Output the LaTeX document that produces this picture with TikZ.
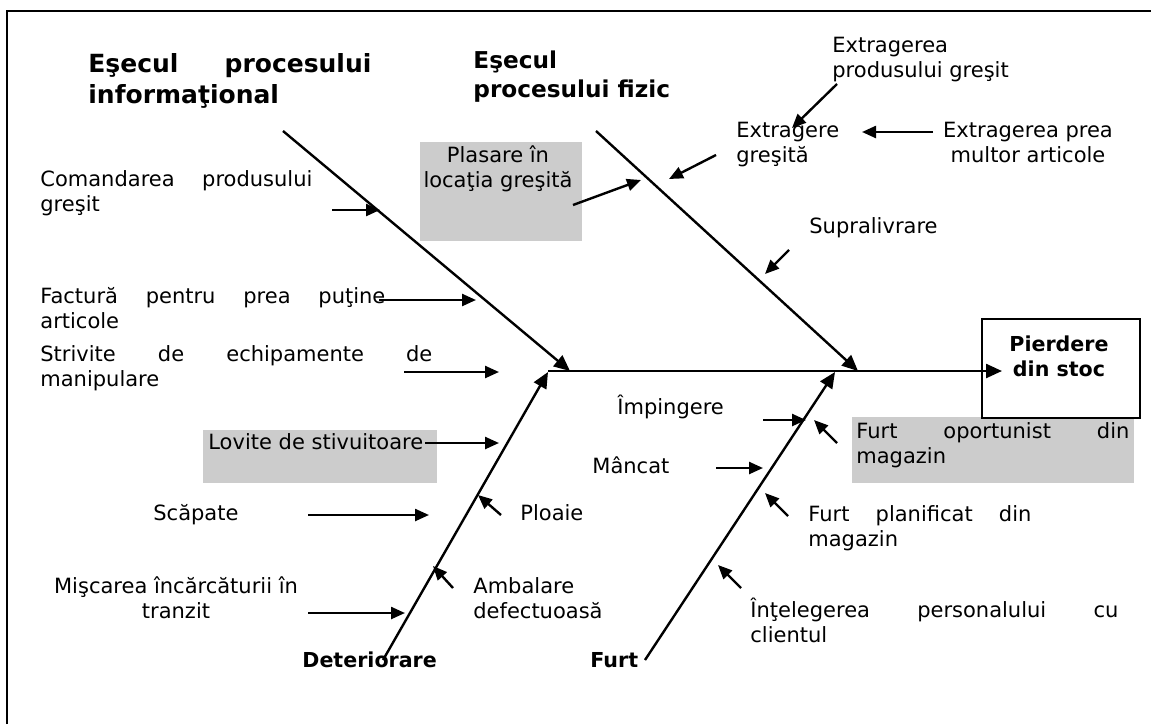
\documentclass[tikz,border=0pt]{standalone}
\usepackage{fontspec}
\setmainfont{DejaVu Sans}
\usetikzlibrary{arrows.meta}
\tikzset{
  bone/.style={line width=1.2pt,-{Triangle[length=8pt,width=7pt]}},
  arr/.style={line width=1.2pt,-{Triangle[length=7pt,width=6pt]}},
  txt/.style={inner sep=0pt,anchor=base west,font=\fontsize{10.5}{12.5}\selectfont,align=left},
  ctxt/.style={inner sep=0pt,anchor=base,font=\fontsize{10.5}{12.5}\selectfont,align=center},
  head/.style={inner sep=0pt,anchor=base west,align=left},
  lab/.style={inner sep=0pt,anchor=base west,font=\fontsize{10.3}{12.5}\selectfont\bfseries},
  grayfill/.style={fill=black!20,draw=none},
  effbox/.style={draw,line width=1pt,inner sep=0pt,anchor=north west}
}
\begin{document}
\begin{tikzpicture}[x=0.5pt,y=-0.5pt]
\useasboundingbox (0,0) rectangle (1151,724);
% frame
\draw[line width=1.1pt] (7,724) -- (7,11) -- (1151,11);
% grey boxes
\fill[grayfill] (420,142) rectangle (582,241);
\fill[grayfill] (203,430) rectangle (437,483);
\fill[grayfill] (852,417) rectangle (1134,483);
% effect box
\node[effbox,minimum width=79pt,minimum height=49.5pt] (eff) at (981,318) {};
% multi-line nodes without text width: base = last line
\node[inner sep=0pt,anchor=base,align=center,font=\fontsize{10.3}{12.5}\selectfont\bfseries] (efftxt) at (1059,376) {Pierdere\\din stoc};
% headings
\node[head,text width=141.5pt,font=\fontsize{12.5}{15.5}\selectfont\bfseries] (h1) at (88,72) {Eşecul\hfill procesului\\informaţional};
\node[head,font=\fontsize{11.6}{14.5}\selectfont\bfseries] (h2) at (473,97) {Eşecul\\procesului fizic};
\node[lab] (h3) at (302,667) {Deteriorare};
\node[lab] (h4) at (590,667) {Furt};
% bone coordinates
\coordinate (b1s) at (283,131); \coordinate (b1e) at (570,371);
\coordinate (b2s) at (596,131); \coordinate (b2e) at (858,371);
\coordinate (b3s) at (383,660); \coordinate (b3e) at (548,372);
\coordinate (b4s) at (645,660); \coordinate (b4e) at (835,372);
\coordinate (spL) at (548,371); \coordinate (spR) at (1002,371);
\draw[bone] (b1s) -- (b1e);
\draw[bone] (b2s) -- (b2e);
\draw[bone] (b3s) -- (b3e);
\draw[bone] (b4s) -- (b4e);
\draw[bone] (spL) -- (spR);
% cause texts
\node[txt,text width=136pt] (t1) at (40,186) {Comandarea\hfill produsului\\greşit};
\node[ctxt] (t2) at (498,187) {Plasare în\\locaţia greşită};
\node[txt] (t3) at (736,162) {Extragere\\greşită};
\node[txt] (t4) at (832,77) {Extragerea\\produsului greşit};
\node[ctxt] (t5) at (1028,162) {Extragerea prea\\multor articole};
\node[txt] (t6) at (809,233) {Supralivrare};
\node[txt,text width=172.5pt] (t7) at (40,303) {Factură\hfill pentru\hfill prea\hfill puţine\\articole};
\node[txt,text width=196pt] (t8) at (40,361) {Strivite\hfill de\hfill echipamente\hfill de\\manipulare};
\node[txt] (t9) at (208,449) {Lovite de stivuitoare};
\node[txt] (t10) at (153,520) {Scăpate};
\node[txt] (t11) at (520,520) {Ploaie};
\node[ctxt] (t12) at (176,618) {Mişcarea încărcăturii în\\tranzit};
\node[txt] (t13) at (473,618) {Ambalare\\defectuoasă};
\node[txt] (t14) at (617,414) {Împingere};
\node[txt] (t15) at (592,473) {Mâncat};
\node[txt,text width=136.5pt] (t16) at (856,438) {Furt\hfill oportunist\hfill din\\magazin};
\node[txt,text width=111.5pt] (t17) at (808,521) {Furt\hfill planificat\hfill din\\magazin};
\node[txt,text width=184pt] (t18) at (750,617) {Înţelegerea\hfill personalului\hfill cu\\clientul};
% small arrows
\coordinate (a1s) at (332,210); \coordinate (a1e) at (380,210);
\coordinate (a2s) at (573,205); \coordinate (a2e) at (641,180);
\coordinate (a3s) at (716,155); \coordinate (a3e) at (669,179);
\coordinate (a4s) at (837,84); \coordinate (a4e) at (792,128);
\coordinate (a5s) at (933,132); \coordinate (a5e) at (862,132);
\coordinate (a6s) at (789,250); \coordinate (a6e) at (765,274);
\coordinate (a7s) at (379,300); \coordinate (a7e) at (476,300);
\coordinate (a8s) at (404,372); \coordinate (a8e) at (499,372);
\coordinate (a9s) at (425,443); \coordinate (a9e) at (499,443);
\coordinate (a10s) at (308,515); \coordinate (a10e) at (429,515);
\coordinate (a11s) at (501,515); \coordinate (a11e) at (478,495);
\coordinate (a12s) at (308,613); \coordinate (a12e) at (405,613);
\coordinate (a13s) at (453,588); \coordinate (a13e) at (433,566);
\coordinate (a14s) at (763,420); \coordinate (a14e) at (806,420);
\coordinate (a15s) at (716,468); \coordinate (a15e) at (763,468);
\coordinate (a16s) at (837,443); \coordinate (a16e) at (814,420);
\coordinate (a17s) at (788,516); \coordinate (a17e) at (765,493);
\coordinate (a18s) at (741,588); \coordinate (a18e) at (718,565);
\foreach \i in {1,...,18}{\draw[arr] (a\i s) -- (a\i e);}
\end{tikzpicture}
\end{document}
